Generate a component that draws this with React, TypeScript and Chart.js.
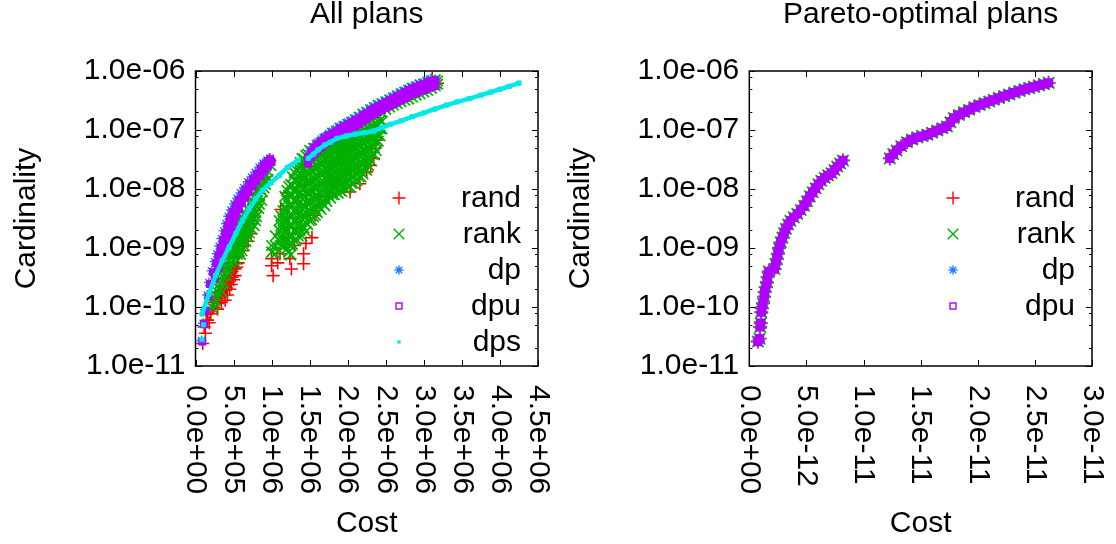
import React, { useEffect, useRef } from "react";
import { Chart, registerables } from "chart.js";

Chart.register(...registerables);

const FONT = '"Liberation Sans", Arial, Helvetica, sans-serif';

type P = [number, number];

// ---------- axes ----------
const allXTicks = [0, 5e5, 1e6, 1.5e6, 2e6, 2.5e6, 3e6, 3.5e6, 4e6, 4.5e6];
const allXTickLabels = ["0.0e+00", "5.0e+05", "1.0e+06", "1.5e+06", "2.0e+06", "2.5e+06", "3.0e+06", "3.5e+06", "4.0e+06", "4.5e+06"];
const paretoXTicks = [0, 5e-12, 1e-11, 1.5e-11, 2e-11, 2.5e-11, 3e-11];
const paretoXTickLabels = ["0.0e+00", "5.0e-12", "1.0e-11", "1.5e-11", "2.0e-11", "2.5e-11", "3.0e-11"];
const yTicks = [1e-11, 1e-10, 1e-9, 1e-8, 1e-7, 1e-6];
const yTickLabels = ["1.0e-11", "1.0e-10", "1.0e-09", "1.0e-08", "1.0e-07", "1.0e-06"];
const yMinorFactors = [2, 5, 8];

// ---------- "All plans" data (cost, cardinality) ----------
const randAll: P[] = [
  // first branch, outer edge
  [9.7e5, 3.1e-8], [9.1e5, 1.6e-8], [8.4e5, 8.4e-9], [7.9e5, 4.3e-9], [7.5e5, 2.6e-9], [7.3e5, 1.74e-9],
  [6.9e5, 1.3e-9], [6.2e5, 9.0e-10], [5.4e5, 5.4e-10], [4.8e5, 3.2e-10], [4.1e5, 2.1e-10], [3.4e5, 1.66e-10],
  [2.8e5, 1.25e-10], [2.4e5, 9.8e-11], [2.0e5, 7.7e-11],
  // first branch, inside
  [7.0e5, 2.9e-9], [6.2e5, 1.6e-9], [5.5e5, 1.1e-9], [5.0e5, 6.5e-10], [4.4e5, 4.3e-10], [3.9e5, 3.0e-10],
  [3.5e5, 2.3e-10], [3.1e5, 1.8e-10], [2.6e5, 1.5e-10], [2.3e5, 1.2e-10], [3.7e5, 4.5e-10], [4.6e5, 8.0e-10],
  [1.6e5, 6.0e-11], [1.3e5, 3.6e-11], [0.95e5, 2.4e-11], [1.15e5, 4.6e-11], [1.4e5, 7.5e-11], [6.6e5, 2.1e-9],
  [7.6e5, 5.5e-9], [8.1e5, 1.1e-8], [5.8e5, 1.2e-9], [4.0e5, 2.6e-10], [4.5e5, 3.8e-10], [3.6e5, 1.9e-10],
  [3.0e5, 1.4e-10], [5.2e5, 4.4e-10], [4.2e5, 1.6e-10], [2.9e5, 9.2e-11], [2.2e5, 9.5e-11], [5.6e5, 7.2e-10],
  [6.4e5, 1.1e-9], [5.1e5, 8.6e-10], [4.3e5, 5.6e-10], [7.2e5, 3.6e-9], [6.8e5, 1.9e-9], [1.8e5, 5.4e-11],
  [5.6e5, 5.6e-10], [5.4e5, 4.7e-10], [5.2e5, 3.4e-10], [5.0e5, 2.9e-10], [4.7e5, 2.4e-10], [4.5e5, 2.0e-10],
  [3.9e5, 1.3e-10], [3.4e5, 1.2e-10], [4.8e5, 4.0e-10], [4.4e5, 3.2e-10], [4.2e5, 2.7e-10], [3.8e5, 2.2e-10],
  [3.3e5, 1.5e-10], [2.9e5, 1.15e-10], [4.9e5, 5.0e-10], [3.9e5, 2.0e-10],
  // second branch
  [1.0e6, 5.0e-10], [1.02e6, 3.4e-10], [1.0e6, 6.6e-10], [1.08e6, 5.6e-10], [1.26e6, 4.4e-10], [1.24e6, 6.6e-10],
  [1.42e6, 8.0e-10], [1.42e6, 5.4e-10], [1.11e6, 8.0e-10], [1.53e6, 1.5e-9], [1.72e6, 7.2e-9], [1.81e6, 9.5e-9],
  [1.86e6, 1.23e-8], [1.92e6, 1.5e-8], [2.03e6, 8.9e-9], [2.16e6, 1.23e-8], [2.25e6, 1.94e-8], [2.34e6, 3.3e-8],
  [2.38e6, 6.7e-8], [2.36e6, 4.9e-8], [2.3e6, 2.5e-8], [1.97e6, 1.1e-8], [1.64e6, 6.4e-9], [1.57e6, 3.6e-9],
  [1.3e6, 1.1e-9], [1.45e6, 1.2e-9], [1.42e6, 2.8e-8], [1.38e6, 1.5e-8], [1.12e6, 4.5e-9], [1.2e6, 8.5e-9],
  [3.11e6, 7.5e-7], [3.18e6, 6.2e-7],
];

// first branch of "rank": [cardinality, costs along that row]
const rankRowsLow: [number, number[]][] = [
  [2.5e-8, [9.9e5]],
  [2.0e-8, [9.5e5]],
  [1.7e-8, [9.2e5]],
  [1.45e-8, [8.9e5, 9.5e5]],
  [1.2e-8, [8.6e5, 9.2e5]],
  [1.05e-8, [8.3e5, 9.0e5]],
  [9e-9, [8.1e5, 8.8e5]],
  [7.6e-9, [7.8e5, 8.4e5]],
  [6.4e-9, [7.5e5, 8.1e5, 8.7e5]],
  [5.5e-9, [7.2e5, 7.8e5, 8.4e5]],
  [4.7e-9, [6.9e5, 7.6e5, 8.3e5]],
  [4.0e-9, [6.5e5, 7.2e5, 7.9e5]],
  [3.4e-9, [6.1e5, 6.8e5, 7.5e5, 8.0e5]],
  [2.9e-9, [5.9e5, 6.6e5, 7.3e5, 7.9e5]],
  [2.4e-9, [5.6e5, 6.3e5, 7.0e5, 7.7e5]],
  [2.1e-9, [5.4e5, 6.1e5, 6.8e5, 7.4e5]],
  [1.8e-9, [5.2e5, 5.9e5, 6.6e5, 7.1e5]],
  [1.55e-9, [5.0e5, 5.7e5, 6.3e5, 6.9e5]],
  [1.3e-9, [4.8e5, 5.5e5, 6.1e5, 6.6e5]],
  [1.1e-9, [4.6e5, 5.3e5, 5.9e5, 6.4e5]],
  [9e-10, [4.5e5, 5.1e5, 5.7e5, 6.1e5]],
  [7.8e-10, [4.3e5, 4.9e5, 5.5e5, 5.9e5]],
  [6.6e-10, [4.1e5, 4.7e5, 5.3e5]],
  [5.6e-10, [4.0e5, 4.6e5, 5.2e5]],
  [4.7e-10, [3.8e5, 4.4e5]],
  [4.0e-10, [3.6e5, 4.2e5]],
  [3.4e-10, [3.5e5, 4.1e5]],
  [2.9e-10, [3.3e5]],
  [2.5e-10, [3.2e5, 3.8e5]],
  [2.1e-10, [3.0e5]],
  [1.8e-10, [2.9e5, 3.5e5]],
  [1.55e-10, [2.7e5]],
  [1.3e-10, [2.6e5]],
  [1.1e-10, [2.4e5]],
  [9.5e-11, [2.3e5]],
];

// second branch of "rank": [cost, cardinalities in that column]
const rankColumnsHigh: [number, number[]][] = [
  [1.0e6, [1.1e-9, 8.5e-10]],
  [1.05e6, [1.6e-9, 1.1e-9, 8.0e-10]],
  [1.1e6, [2.9e-9, 2.0e-9, 1.34e-9, 9e-10]],
  [1.15e6, [4.3e-9, 2.9e-9, 2.0e-9, 1.34e-9]],
  [1.2e6, [9.5e-9, 6.4e-9, 4.3e-9, 2.9e-9, 2.0e-9, 1.34e-9, 9.8e-10]],
  [1.25e6, [1.2e-8, 8e-9, 5.3e-9, 3.6e-9, 2.4e-9, 1.6e-9, 1.1e-9, 7.6e-10]],
  [1.3e6, [1.9e-8, 1.4e-8, 9.5e-9, 6.4e-9, 4.3e-9, 2.9e-9, 2.0e-9, 1.34e-9]],
  [1.35e6, [2.3e-8, 1.6e-8, 1.1e-8, 7.8e-9, 5.3e-9, 3.6e-9, 2.4e-9, 1.6e-9]],
  [1.4e6, [3.3e-8, 2.5e-8, 1.7e-8, 1.15e-8, 7.8e-9, 5.3e-9, 3.6e-9, 2.4e-9, 1.6e-9]],
  [1.45e6, [3.7e-8, 2.6e-8, 1.9e-8, 1.3e-8, 9e-9, 6e-9, 4e-9, 2.7e-9, 1.9e-9]],
  [1.5e6, [4.5e-8, 3.1e-8, 2.1e-8, 1.4e-8, 9.5e-9, 6.4e-9, 4.3e-9, 2.9e-9]],
  [1.55e6, [4.9e-8, 3.4e-8, 2.3e-8, 1.6e-8, 1.1e-8, 7.3e-9, 5e-9, 3.4e-9]],
  [1.6e6, [5.5e-8, 3.7e-8, 2.5e-8, 1.7e-8, 1.15e-8, 7.8e-9, 5.3e-9, 4.0e-9]],
  [1.65e6, [6e-8, 4.2e-8, 2.8e-8, 1.9e-8, 1.3e-8, 8.8e-9, 6e-9, 4.5e-9]],
  [1.7e6, [7e-8, 4.9e-8, 3.3e-8, 2.3e-8, 1.5e-8, 1.05e-8, 7e-9, 5.2e-9]],
  [1.75e6, [7.5e-8, 5.2e-8, 3.6e-8, 2.5e-8, 1.7e-8, 1.15e-8, 7.8e-9]],
  [1.8e6, [8.8e-8, 5.9e-8, 4.0e-8, 2.7e-8, 1.8e-8, 1.25e-8, 8e-9]],
  [1.85e6, [9.5e-8, 6.4e-8, 4.4e-8, 3e-8, 2e-8, 1.35e-8, 9e-9]],
  [1.9e6, [1.07e-7, 7.2e-8, 4.9e-8, 3.3e-8, 2.3e-8, 1.5e-8, 9.5e-9]],
  [1.95e6, [1.15e-7, 7.8e-8, 5.3e-8, 3.6e-8, 2.4e-8, 1.6e-8, 1.05e-8]],
  [2.0e6, [1.25e-7, 8.5e-8, 5.8e-8, 3.9e-8, 2.6e-8, 1.8e-8, 1.1e-8]],
  [2.05e6, [1.35e-7, 9.2e-8, 6.3e-8, 4.3e-8, 2.9e-8, 2e-8, 1.25e-8]],
  [2.1e6, [1.5e-7, 1.03e-7, 7.0e-8, 4.7e-8, 3.2e-8, 2.2e-8, 1.4e-8]],
  [2.15e6, [1.65e-7, 1.12e-7, 7.6e-8, 5.2e-8, 3.5e-8, 2.4e-8, 1.6e-8]],
  [2.2e6, [1.85e-7, 1.25e-7, 8.5e-8, 5.8e-8, 3.9e-8, 2.6e-8, 1.8e-8]],
  [2.25e6, [2.0e-7, 1.35e-7, 9.2e-8, 6.3e-8, 4.2e-8, 2.9e-8, 2.1e-8]],
  [2.3e6, [2.2e-7, 1.47e-7, 9.9e-8, 6.7e-8, 4.5e-8, 3.1e-8]],
  [2.35e6, [2.4e-7, 1.6e-7, 1.1e-7, 7.4e-8, 5e-8, 3.8e-8]],
  [2.4e6, [2.6e-7, 1.8e-7, 1.2e-7, 8.2e-8, 6.5e-8]],
  [2.45e6, [2.8e-7, 2.0e-7, 1.4e-7, 1.05e-7]],
  [2.5e6, [3.0e-7, 2.6e-7, 2.25e-7]],
  [2.55e6, [3.25e-7, 2.8e-7, 2.45e-7]],
  [2.6e6, [3.5e-7, 3.0e-7, 2.65e-7]],
  [2.65e6, [3.8e-7, 3.3e-7, 2.8e-7]],
  [2.7e6, [4.1e-7, 3.5e-7, 3.0e-7]],
  [2.75e6, [4.4e-7, 3.75e-7, 3.2e-7]],
  [2.8e6, [4.75e-7, 4.0e-7, 3.35e-7]],
  [2.85e6, [5.1e-7, 4.3e-7, 3.6e-7]],
  [2.9e6, [5.35e-7, 4.6e-7, 3.9e-7]],
  [2.95e6, [5.8e-7, 4.9e-7, 4.1e-7]],
  [3.0e6, [6.0e-7, 5.1e-7, 4.4e-7]],
  [3.05e6, [6.5e-7, 5.5e-7, 4.7e-7]],
  [3.1e6, [6.8e-7, 5.8e-7, 5.1e-7]],
  [3.15e6, [7.1e-7, 6.2e-7, 5.6e-7]],
  [3.18e6, [6.8e-7, 6.0e-7]],
];

// further reads inside the dense second-branch "rank" cloud
const rankColumnsFill: [number, number[]][] = [
  [1.125e6, [3.5e-9, 2.4e-9, 1.6e-9, 1.1e-9]],
  [1.175e6, [7.5e-9, 5e-9, 3.5e-9, 2.4e-9, 1.6e-9, 1.1e-9]],
  [1.225e6, [1.1e-8, 7.8e-9, 5.2e-9, 3.5e-9, 2.4e-9, 1.6e-9, 1.15e-9, 8.5e-10]],
  [1.275e6, [1.6e-8, 1.15e-8, 7.8e-9, 5.2e-9, 3.5e-9, 2.4e-9, 1.6e-9, 1.15e-9]],
  [1.325e6, [2.1e-8, 1.4e-8, 9.5e-9, 6.5e-9, 4.4e-9, 3e-9, 2e-9, 1.4e-9]],
  [1.375e6, [2.8e-8, 1.9e-8, 1.3e-8, 9e-9, 6.2e-9, 4.3e-9, 2.9e-9, 2e-9]],
  [1.425e6, [3.2e-8, 2.2e-8, 1.5e-8, 1.05e-8, 7.2e-9, 4.9e-9, 3.3e-9, 2.2e-9]],
  [1.475e6, [3.9e-8, 2.6e-8, 1.75e-8, 1.2e-8, 8.2e-9, 5.5e-9, 3.7e-9, 2.5e-9]],
  [1.525e6, [4.3e-8, 2.9e-8, 1.95e-8, 1.3e-8, 8.8e-9, 6e-9, 4e-9, 3e-9]],
  [1.575e6, [4.7e-8, 3.2e-8, 2.2e-8, 1.45e-8, 9.8e-9, 6.7e-9, 4.6e-9, 3.6e-9]],
  [1.625e6, [5.2e-8, 3.5e-8, 2.4e-8, 1.6e-8, 1.1e-8, 7.3e-9, 5e-9]],
  [1.675e6, [5.8e-8, 3.9e-8, 2.65e-8, 1.8e-8, 1.2e-8, 8.2e-9, 5.6e-9]],
  [1.725e6, [6.3e-8, 4.3e-8, 2.9e-8, 2e-8, 1.35e-8, 9e-9, 6.2e-9]],
  [1.775e6, [7e-8, 4.7e-8, 3.2e-8, 2.2e-8, 1.45e-8, 9.8e-9, 7e-9]],
  [1.825e6, [7.6e-8, 5.2e-8, 3.5e-8, 2.4e-8, 1.6e-8, 1.07e-8, 8e-9]],
  [1.875e6, [8.3e-8, 5.6e-8, 3.8e-8, 2.6e-8, 1.75e-8, 1.2e-8, 8.5e-9]],
  [1.925e6, [9e-8, 6e-8, 4.1e-8, 2.8e-8, 1.9e-8, 1.25e-8, 9e-9]],
  [1.975e6, [9.8e-8, 6.6e-8, 4.5e-8, 3e-8, 2.05e-8, 1.35e-8, 1e-8]],
  [2.025e6, [1.05e-7, 7.2e-8, 4.9e-8, 3.3e-8, 2.2e-8, 1.5e-8, 1.1e-8]],
  [2.075e6, [1.15e-7, 7.8e-8, 5.3e-8, 3.6e-8, 2.45e-8, 1.65e-8, 1.25e-8]],
  [2.125e6, [1.25e-7, 8.5e-8, 5.8e-8, 3.9e-8, 2.6e-8, 1.8e-8, 1.4e-8]],
  [2.175e6, [1.35e-7, 9.2e-8, 6.3e-8, 4.3e-8, 2.9e-8, 2e-8, 1.6e-8]],
  [2.225e6, [1.5e-7, 1e-7, 6.9e-8, 4.7e-8, 3.2e-8, 2.2e-8]],
  [2.275e6, [1.6e-7, 1.1e-7, 7.5e-8, 5.1e-8, 3.5e-8, 2.5e-8]],
  [2.325e6, [1.75e-7, 1.2e-7, 8.2e-8, 5.6e-8, 3.9e-8]],
  [2.375e6, [1.9e-7, 1.3e-7, 9e-8, 6.2e-8, 4.5e-8]],
  [2.425e6, [2.1e-7, 1.45e-7, 1.05e-7, 8e-8]],
];

const dpAll: P[] = [
  [0.8e5, 2.7e-11], [1.0e5, 5.3e-11], [1.25e5, 9.0e-11], [1.55e5, 1.6e-10], [1.75e5, 2.6e-10], [2.1e5, 4.1e-10],
  [2.5e5, 5.9e-10], [2.8e5, 8.0e-10], [3.1e5, 1.08e-9], [3.4e5, 1.45e-9], [3.7e5, 1.95e-9], [4.0e5, 2.6e-9],
  [4.3e5, 3.45e-9], [4.65e5, 4.4e-9], [5.05e5, 5.6e-9], [5.45e5, 7.0e-9], [5.9e5, 8.6e-9], [6.35e5, 1.05e-8],
  [6.85e5, 1.33e-8], [7.35e5, 1.6e-8], [7.85e5, 1.92e-8], [8.35e5, 2.35e-8], [8.85e5, 2.75e-8], [9.4e5, 3.1e-8],
  [9.8e5, 3.35e-8],
  [1.5e6, 4.4e-8], [1.55e6, 5.2e-8], [1.6e6, 6.2e-8], [1.65e6, 7.0e-8], [1.7e6, 7.85e-8], [1.75e6, 8.7e-8],
  [1.8e6, 9.55e-8], [1.85e6, 1.05e-7], [1.9e6, 1.16e-7], [1.95e6, 1.25e-7], [2.0e6, 1.36e-7], [2.05e6, 1.47e-7],
  [2.1e6, 1.59e-7], [2.15e6, 1.75e-7], [2.2e6, 1.93e-7], [2.25e6, 2.1e-7], [2.3e6, 2.35e-7], [2.35e6, 2.55e-7],
  [2.4e6, 2.75e-7], [2.45e6, 2.95e-7], [2.5e6, 3.2e-7], [2.55e6, 3.45e-7], [2.6e6, 3.76e-7], [2.65e6, 4.05e-7],
  [2.7e6, 4.4e-7], [2.75e6, 4.7e-7], [2.8e6, 5.1e-7], [2.85e6, 5.4e-7], [2.9e6, 5.8e-7], [2.95e6, 6.1e-7],
  [3.0e6, 6.5e-7], [3.05e6, 6.9e-7], [3.1e6, 7.3e-7], [3.15e6, 7.2e-7],
];

const dpuAll: P[] = [
  // first branch, left row
  [0.88e5, 2.6e-11], [1.1e5, 5.1e-11], [1.32e5, 8.6e-11], [1.7e5, 1.5e-10], [1.9e5, 2.45e-10], [2.3e5, 3.9e-10],
  [2.7e5, 5.5e-10], [3.0e5, 7.5e-10], [3.3e5, 1.0e-9], [3.6e5, 1.35e-9], [3.9e5, 1.8e-9], [4.2e5, 2.4e-9],
  [4.5e5, 3.2e-9], [4.85e5, 4.1e-9], [5.25e5, 5.2e-9], [5.65e5, 6.5e-9], [6.1e5, 8.0e-9], [6.55e5, 9.8e-9],
  [7.05e5, 1.25e-8], [7.55e5, 1.5e-8], [8.05e5, 1.8e-8], [8.55e5, 2.2e-8], [9.0e5, 2.6e-8], [9.5e5, 2.95e-8],
  [9.8e5, 3.2e-8],
  // first branch, right row
  [2.5e5, 3.0e-10], [3.0e5, 4.5e-10], [3.4e5, 6.2e-10], [3.75e5, 8.5e-10], [4.05e5, 1.15e-9], [4.35e5, 1.55e-9],
  [4.7e5, 2.05e-9], [5.0e5, 2.7e-9], [5.3e5, 3.5e-9], [5.7e5, 4.5e-9], [6.1e5, 5.7e-9], [6.55e5, 7.1e-9],
  [7.0e5, 8.8e-9], [7.5e5, 1.1e-8], [8.0e5, 1.35e-8], [8.5e5, 1.65e-8], [9.0e5, 2.0e-8], [9.5e5, 2.4e-8],
  [1.0e6, 2.85e-8],
  // second branch, upper row
  [1.48e6, 3.45e-8], [1.52e6, 4.35e-8], [1.56e6, 5.1e-8], [1.6e6, 5.74e-8], [1.65e6, 6.45e-8], [1.7e6, 7.3e-8],
  [1.75e6, 8.2e-8], [1.8e6, 8.8e-8], [1.85e6, 9.55e-8], [1.9e6, 1.07e-7], [1.95e6, 1.16e-7], [2.0e6, 1.26e-7],
  [2.05e6, 1.36e-7], [2.1e6, 1.47e-7], [2.15e6, 1.59e-7], [2.2e6, 1.79e-7], [2.25e6, 1.93e-7], [2.3e6, 2.17e-7],
  [2.35e6, 2.35e-7], [2.4e6, 2.54e-7], [2.45e6, 2.75e-7], [2.5e6, 2.97e-7], [2.55e6, 3.2e-7], [2.6e6, 3.47e-7],
  [2.65e6, 3.76e-7], [2.7e6, 4.06e-7], [2.75e6, 4.4e-7], [2.8e6, 4.75e-7], [2.85e6, 5.1e-7], [2.9e6, 5.35e-7],
  [2.95e6, 5.8e-7], [3.0e6, 6.0e-7], [3.05e6, 6.5e-7], [3.1e6, 6.8e-7], [3.15e6, 7.0e-7],
  // second branch, lower row
  [1.48e6, 2.7e-8], [1.52e6, 3.45e-8], [1.56e6, 4.0e-8], [1.6e6, 4.5e-8], [1.65e6, 5.1e-8], [1.7e6, 5.74e-8],
  [1.75e6, 6.45e-8], [1.8e6, 7.0e-8], [1.85e6, 7.55e-8], [1.9e6, 8.5e-8], [1.95e6, 9.2e-8], [2.0e6, 9.9e-8],
  [2.05e6, 1.07e-7], [2.1e6, 1.16e-7], [2.15e6, 1.26e-7], [2.2e6, 1.41e-7], [2.25e6, 1.53e-7], [2.3e6, 1.72e-7],
  [2.35e6, 1.86e-7], [2.4e6, 2.01e-7], [2.45e6, 2.17e-7], [2.5e6, 2.35e-7], [2.55e6, 2.54e-7], [2.6e6, 2.75e-7],
  [2.65e6, 2.97e-7], [2.7e6, 3.2e-7], [2.75e6, 3.47e-7], [2.8e6, 3.76e-7], [2.85e6, 4.06e-7], [2.9e6, 4.22e-7],
  [2.95e6, 4.57e-7], [3.0e6, 4.75e-7], [3.05e6, 5.1e-7], [3.1e6, 5.35e-7], [3.15e6, 5.56e-7],
];

// null marks a break in the dps trace
const dpsAll: (P | null)[] = [
  [0.85e5, 2.8e-11], null,
  [1.05e5, 5.0e-11], null,
  [0.88e5, 7.6e-11], [1.76e5, 1.66e-10], [2.64e5, 3.4e-10], [3.52e5, 6.1e-10], [4.4e5, 1.03e-9], [5.28e5, 1.74e-9],
  [6.16e5, 2.9e-9], [7.04e5, 4.6e-9], [7.92e5, 6.8e-9], [8.8e5, 9.5e-9], [9.9e5, 1.28e-8], [1.1e6, 1.7e-8],
  [1.21e6, 2.33e-8], [1.35e6, 3.1e-8], null,
  [1.48e6, 3.3e-8], [1.55e6, 3.9e-8], [1.61e6, 4.6e-8], [1.7e6, 5.6e-8], [1.77e6, 6.2e-8], [1.86e6, 7.2e-8],
  [1.98e6, 7.9e-8], [2.1e6, 8.5e-8], [2.22e6, 9.0e-8], [2.34e6, 9.6e-8], [2.45e6, 1.1e-7], [2.56e6, 1.25e-7],
  [2.7e6, 1.43e-7], [2.85e6, 1.68e-7], [3.0e6, 1.95e-7], [3.15e6, 2.27e-7], [3.3e6, 2.65e-7], [3.44e6, 3.0e-7],
  [3.6e6, 3.4e-7], [3.75e6, 3.9e-7], [3.88e6, 4.4e-7], [4.0e6, 4.9e-7], [4.12e6, 5.5e-7], [4.25e6, 6.25e-7],
];

// ---------- "Pareto-optimal plans" data ----------
const paretoPlans: P[] = [
  [0.75e-12, 2.6e-11], [0.9e-12, 2.9e-11], [0.95e-12, 4.6e-11], [1.0e-12, 5.3e-11], [1.05e-12, 8.2e-11],
  [1.1e-12, 9.5e-11], [1.2e-12, 1.15e-10], [1.3e-12, 1.5e-10], [1.35e-12, 1.8e-10], [1.45e-12, 2.2e-10],
  [1.55e-12, 2.6e-10], [1.6e-12, 3.2e-10], [1.7e-12, 4.0e-10], [2.2e-12, 4.4e-10], [2.3e-12, 5.3e-10],
  [2.4e-12, 6.5e-10], [2.5e-12, 8.0e-10], [2.6e-12, 1.0e-9], [2.75e-12, 1.25e-9], [2.9e-12, 1.5e-9],
  [3.05e-12, 1.8e-9], [3.2e-12, 2.1e-9], [3.4e-12, 2.5e-9], [3.6e-12, 2.9e-9], [3.9e-12, 3.3e-9],
  [4.2e-12, 3.8e-9], [4.5e-12, 4.4e-9], [4.8e-12, 5.2e-9], [5.05e-12, 6.2e-9], [5.3e-12, 7.5e-9],
  [5.55e-12, 8.8e-9], [5.8e-12, 1.03e-8], [6.05e-12, 1.2e-8], [6.3e-12, 1.38e-8], [6.6e-12, 1.55e-8],
  [6.9e-12, 1.7e-8], [7.2e-12, 1.85e-8], [7.45e-12, 2.1e-8], [7.7e-12, 2.4e-8], [7.95e-12, 2.7e-8],
  [8.2e-12, 3.05e-8],
  [12.3e-12, 3.3e-8], [12.6e-12, 3.9e-8], [12.9e-12, 4.5e-8], [13.3e-12, 5.3e-8], [13.8e-12, 6.2e-8],
  [14.25e-12, 6.9e-8], [14.7e-12, 7.5e-8], [15.15e-12, 7.9e-8], [15.6e-12, 8.3e-8], [16.0e-12, 9.0e-8],
  [16.45e-12, 9.8e-8], [16.9e-12, 1.07e-7], [17.3e-12, 1.15e-7], [17.6e-12, 1.35e-7], [17.9e-12, 1.6e-7],
  [18.35e-12, 1.8e-7], [18.8e-12, 2.0e-7], [19.25e-12, 2.2e-7], [19.7e-12, 2.45e-7], [20.15e-12, 2.65e-7],
  [20.6e-12, 2.85e-7], [21.0e-12, 3.05e-7], [21.4e-12, 3.25e-7], [21.85e-12, 3.5e-7], [22.3e-12, 3.75e-7],
  [22.75e-12, 4.0e-7], [23.2e-12, 4.3e-7], [23.65e-12, 4.6e-7], [24.1e-12, 4.9e-7], [24.5e-12, 5.15e-7],
  [24.9e-12, 5.4e-7], [25.35e-12, 5.7e-7], [25.8e-12, 6.0e-7], [26.2e-12, 6.3e-7],
];

// ---------- styles ----------
const COLORS = {
  rand: "#ff0000",
  rank: "#00b000",
  dp: "#1a80ff",
  dpu: "#b000ff",
  dps: "#00e8e8",
};

type MarkerKind = "plus" | "x" | "star" | "box" | "dot";

function toXY(pts: (P | null)[]) {
  let lastX = 0;
  return pts.map((p) => {
    if (!p) return { x: lastX, y: null as any };
    lastX = p[0];
    return { x: p[0], y: p[1] };
  });
}

function rowsToPts(rows: [number, number[]][]): P[] {
  const out: P[] = [];
  rows.forEach(([card, costs]) => costs.forEach((c) => out.push([c, card])));
  return out;
}

function colsToPts(cols: [number, number[]][]): P[] {
  const out: P[] = [];
  cols.forEach(([cost, cards]) => cards.forEach((c) => out.push([cost, c])));
  return out;
}

function pointDataset(label: string, pts: (P | null)[], color: string, style: string, r: number, order: number, fill = false, bw = 1.4) {
  return {
    label,
    data: toXY(pts),
    order,
    pointStyle: style,
    pointRadius: r,
    pointBorderWidth: bw,
    pointBorderColor: color,
    pointBackgroundColor: fill ? color : "transparent",
    borderColor: color,
    backgroundColor: color,
    showLine: false,
  };
}

function drawMarker(ctx: CanvasRenderingContext2D, kind: MarkerKind, x: number, y: number, color: string) {
  ctx.save();
  ctx.strokeStyle = color;
  ctx.fillStyle = color;
  ctx.lineWidth = 1.4;
  ctx.beginPath();
  if (kind === "plus") {
    ctx.moveTo(x - 6.5, y); ctx.lineTo(x + 6.5, y);
    ctx.moveTo(x, y - 6.5); ctx.lineTo(x, y + 6.5);
    ctx.stroke();
  } else if (kind === "x") {
    const d = 5.3;
    ctx.moveTo(x - d, y - d); ctx.lineTo(x + d, y + d);
    ctx.moveTo(x - d, y + d); ctx.lineTo(x + d, y - d);
    ctx.stroke();
  } else if (kind === "star") {
    const r = 4.5, d = 3.2;
    ctx.moveTo(x - r, y); ctx.lineTo(x + r, y);
    ctx.moveTo(x, y - r); ctx.lineTo(x, y + r);
    ctx.moveTo(x - d, y - d); ctx.lineTo(x + d, y + d);
    ctx.moveTo(x - d, y + d); ctx.lineTo(x + d, y - d);
    ctx.stroke();
  } else if (kind === "box") {
    ctx.strokeRect(x - 3, y - 3, 6, 6);
  } else {
    ctx.fillRect(x - 1.6, y - 1.6, 3.2, 3.2);
  }
  ctx.restore();
}

interface PanelSpec {
  title: string;
  xMax: number;
  xTicks: number[];
  xLabels: string[];
  yWidth: number;
  padRight: number;
  yTitlePad: number;
  legend: { label: string; kind: MarkerKind; color: string }[];
  datasets: any[];
}

function makeFramePlugin(spec: PanelSpec) {
  return {
    id: "gnuFrame",
    afterDraw(chart: any) {
      const { ctx, chartArea: a } = chart;
      const xs = chart.scales.x;
      const ys = chart.scales.y;
      ctx.save();
      // ticks
      ctx.strokeStyle = "#000";
      ctx.lineWidth = 1;
      ctx.beginPath();
      spec.xTicks.forEach((v) => {
        const px = Math.round(xs.getPixelForValue(v)) + 0.5;
        ctx.moveTo(px, a.bottom); ctx.lineTo(px, a.bottom - 6);
        ctx.moveTo(px, a.top); ctx.lineTo(px, a.top + 6);
      });
      yTicks.forEach((v, i) => {
        const py = Math.round(ys.getPixelForValue(v)) + 0.5;
        ctx.moveTo(a.left, py); ctx.lineTo(a.left + 6, py);
        ctx.moveTo(a.right, py); ctx.lineTo(a.right - 6, py);
        if (i < yTicks.length - 1) {
          yMinorFactors.forEach((m) => {
            const my = Math.round(ys.getPixelForValue(v * m)) + 0.5;
            ctx.moveTo(a.left, my); ctx.lineTo(a.left + 3, my);
            ctx.moveTo(a.right, my); ctx.lineTo(a.right - 3, my);
          });
        }
      });
      ctx.stroke();
      // border
      ctx.lineWidth = 1.5;
      ctx.strokeRect(a.left, a.top, a.right - a.left, a.bottom - a.top);
      ctx.fillStyle = "#000";
      ctx.font = `30px ${FONT}`;
      // title, centred over the plot area
      ctx.textAlign = "center";
      ctx.textBaseline = "middle";
      ctx.fillText(spec.title, (a.left + a.right) / 2, 15);
      // rotated x tick labels
      ctx.textAlign = "left";
      ctx.textBaseline = "middle";
      spec.xTicks.forEach((v, i) => {
        const px = xs.getPixelForValue(v);
        ctx.save();
        ctx.translate(px, a.bottom + 19);
        ctx.rotate(Math.PI / 2);
        ctx.fillText(spec.xLabels[i], 0, 0);
        ctx.restore();
      });
      // key
      spec.legend.forEach((e, i) => {
        const y = a.top + 127 + i * 36;
        drawMarker(ctx, e.kind, a.right - 139, y, e.color);
        ctx.fillStyle = "#000";
        ctx.textAlign = "right";
        ctx.textBaseline = "middle";
        ctx.fillText(e.label, a.right - 17, y + 1);
      });
      ctx.restore();
    },
  };
}

function makeConfig(spec: PanelSpec): any {
  return {
    type: "scatter",
    data: { datasets: spec.datasets },
    options: {
      animation: false,
      responsive: false,
      maintainAspectRatio: false,
      events: [],
      layout: { padding: { left: 0, right: spec.padRight, top: 71, bottom: 2 } },
      plugins: {
        legend: { display: false },
        tooltip: { enabled: false },
        title: { display: false },
      },
      scales: {
        x: {
          type: "linear",
          min: 0,
          max: spec.xMax,
          grid: { display: false, drawTicks: false },
          border: { display: false },
          ticks: { display: false },
          afterBuildTicks: (s: any) => {
            s.ticks = spec.xTicks.map((v) => ({ value: v }));
          },
          afterFit: (s: any) => {
            s.height = 176;
          },
          title: {
            display: true,
            text: "Cost",
            color: "#000",
            font: { family: FONT, size: 30, weight: "normal" },
            padding: { top: 0, bottom: 0 },
          },
        },
        y: {
          type: "logarithmic",
          min: 1e-11,
          max: 1e-6,
          grid: { display: false, drawTicks: false },
          border: { display: false },
          afterBuildTicks: (s: any) => {
            s.ticks = yTicks.map((v) => ({ value: v, major: true }));
          },
          afterFit: (s: any) => {
            s.width = spec.yWidth;
          },
          ticks: {
            autoSkip: false,
            color: "#000",
            padding: 10,
            font: { family: FONT, size: 30 },
            callback: (_v: any, i: number) => yTickLabels[i],
          },
          title: {
            display: true,
            text: "Cardinality",
            color: "#000",
            font: { family: FONT, size: 30, weight: "normal" },
            padding: { top: spec.yTitlePad, bottom: 0 },
          },
        },
      },
    },
    plugins: [makeFramePlugin(spec)],
  };
}

const allSpec: PanelSpec = {
  title: "All plans",
  xMax: 4.5e6,
  xTicks: allXTicks,
  xLabels: allXTickLabels,
  yWidth: 195.5,
  padRight: 20,
  yTitlePad: 9,
  legend: [
    { label: "rand", kind: "plus", color: COLORS.rand },
    { label: "rank", kind: "x", color: COLORS.rank },
    { label: "dp", kind: "star", color: COLORS.dp },
    { label: "dpu", kind: "box", color: COLORS.dpu },
    { label: "dps", kind: "dot", color: COLORS.dps },
  ],
  datasets: [
    pointDataset("rand", randAll, COLORS.rand, "cross", 6.5, 5, false, 1.6),
    pointDataset(
      "rank",
      [...rowsToPts(rankRowsLow), ...colsToPts(rankColumnsHigh), ...colsToPts(rankColumnsFill)],
      COLORS.rank, "crossRot", 7.5, 4, false, 1.7
    ),
    pointDataset("dp", dpAll, COLORS.dp, "star", 5, 3),
    pointDataset("dpu", dpuAll, COLORS.dpu, "rect", 4.6, 2, true),
    {
      label: "dps",
      data: toXY(dpsAll),
      order: 1,
      showLine: true,
      spanGaps: false,
      borderColor: COLORS.dps,
      backgroundColor: COLORS.dps,
      borderWidth: 4.5,
      pointStyle: "rect",
      pointRadius: 3,
      pointBorderWidth: 1,
      pointBorderColor: COLORS.dps,
      pointBackgroundColor: COLORS.dps,
    },
  ],
};

const paretoSpec: PanelSpec = {
  title: "Pareto-optimal plans",
  xMax: 3e-11,
  xTicks: paretoXTicks,
  xLabels: paretoXTickLabels,
  yWidth: 191.3,
  padRight: 24,
  yTitlePad: 5,
  legend: [
    { label: "rand", kind: "plus", color: COLORS.rand },
    { label: "rank", kind: "x", color: COLORS.rank },
    { label: "dp", kind: "star", color: COLORS.dp },
    { label: "dpu", kind: "box", color: COLORS.dpu },
  ],
  datasets: [
    pointDataset("rand", paretoPlans, COLORS.rand, "cross", 7, 4, false, 1.8),
    pointDataset("rank", paretoPlans, COLORS.rank, "crossRot", 8, 3, false, 1.8),
    pointDataset("dp", paretoPlans, COLORS.dp, "star", 6, 2, false, 1.5),
    pointDataset("dpu", paretoPlans, COLORS.dpu, "rect", 5.6, 1, true),
  ],
};

function Panel({ spec, left }: { spec: PanelSpec; left: number }) {
  const ref = useRef<HTMLCanvasElement | null>(null);
  useEffect(() => {
    if (!ref.current) return;
    const chart = new Chart(ref.current, makeConfig(spec));
    return () => chart.destroy();
  }, [spec]);
  return (
    <canvas
      ref={ref}
      width={558}
      height={544}
      style={{ position: "absolute", left, top: 0, width: 558, height: 544, display: "block" }}
    />
  );
}

export default function App() {
  return (
    <div style={{ position: "fixed", left: 0, top: 0, width: 1116, height: 544, background: "#fff", overflow: "hidden" }}>
      <Panel spec={allSpec} left={0} />
      <Panel spec={paretoSpec} left={558} />
    </div>
  );
}
